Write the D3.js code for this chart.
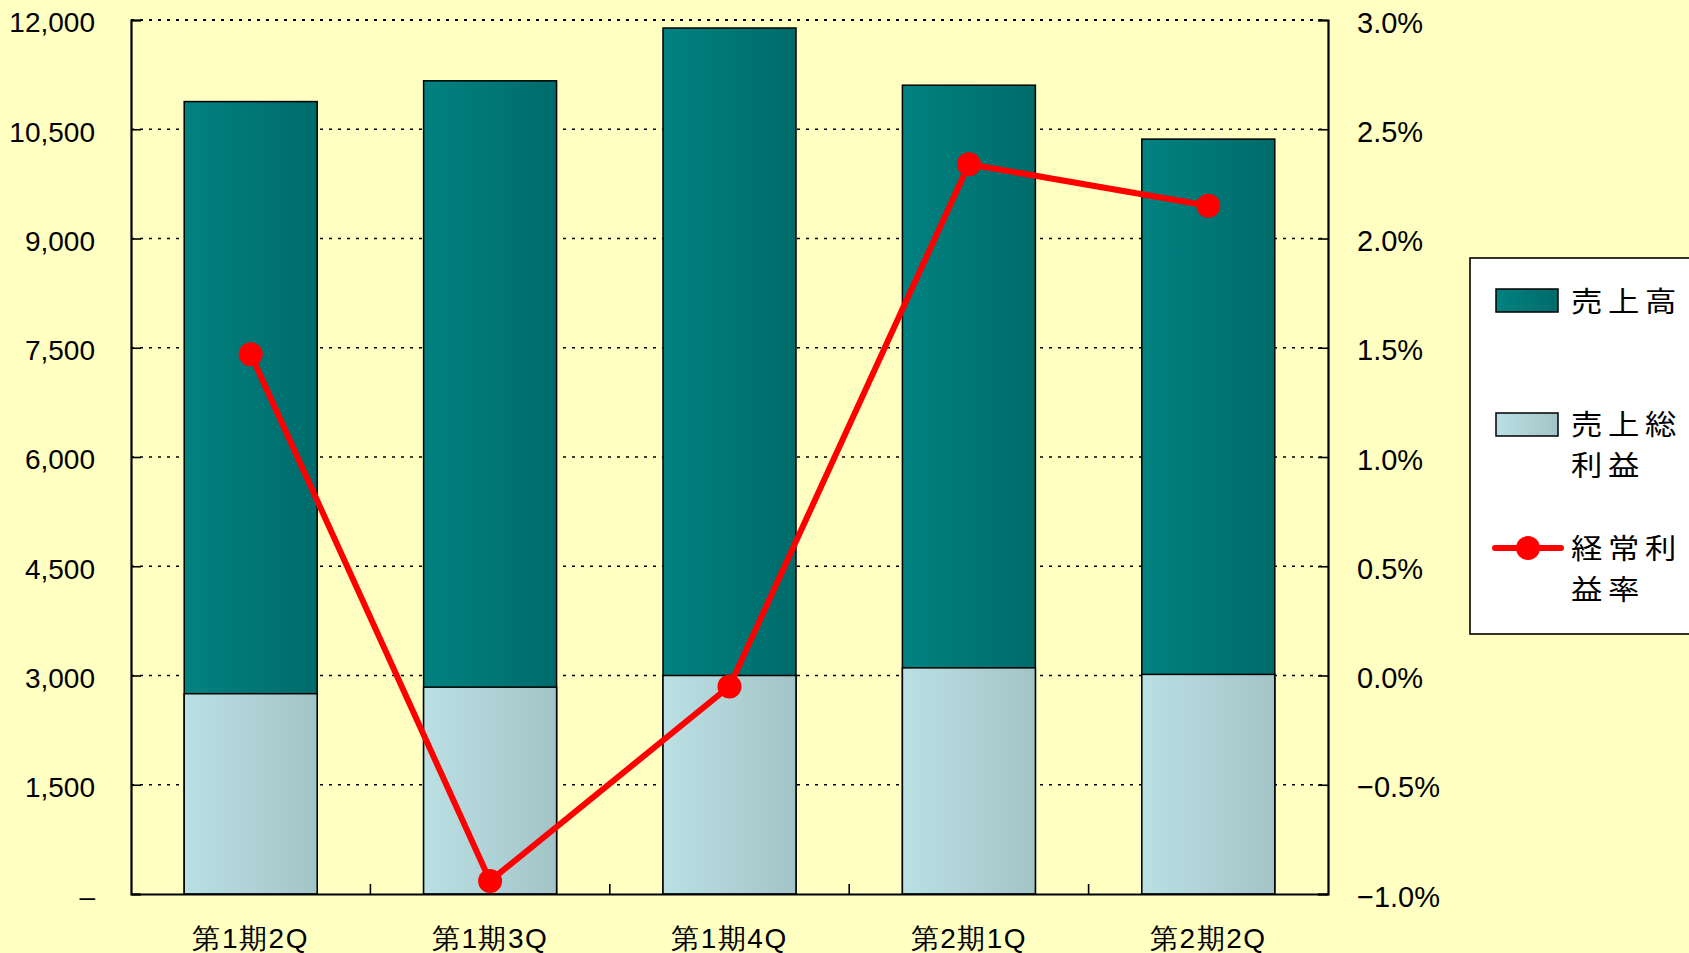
<!DOCTYPE html>
<html>
<head>
<meta charset="utf-8">
<script src="https://cdn.jsdelivr.net/npm/d3@7"></script>
<style>
  html, body { margin: 0; padding: 0; background: #ffffc2; overflow: hidden; }
  text { font-family: "Liberation Sans", Arial, sans-serif; fill: #000; }
  .cjk { font-family: "Noto Sans CJK JP", sans-serif; }
</style>
</head>
<body>
<div id="chart"></div>
<script>
// data
const categories = ["第1期2Q", "第1期3Q", "第1期4Q", "第2期1Q", "第2期2Q"];
const sales = [10880, 11165, 11890, 11105, 10365];        // 売上高
const grossProfit = [2750, 2840, 3000, 3105, 3015];       // 売上総利益
const ordinaryMargin = [1.47, -0.94, -0.05, 2.34, 2.15];  // 経常利益率 (%)
const leftTicks = [0, 1500, 3000, 4500, 6000, 7500, 9000, 10500, 12000];
const rightTicks = [-1.0, -0.5, 0.0, 0.5, 1.0, 1.5, 2.0, 2.5, 3.0];

const W = 1689, H = 953;
const plot = {left: 131, right: 1328, top: 20, bottom: 894};

const svg = d3.select("#chart").append("svg")
    .attr("width", W)
    .attr("height", H);

// gradients for the bars
const defs = svg.append("defs");
function grad(id, c0, c1) {
    const g = defs.append("linearGradient").attr("id", id)
        .attr("x1", "0%").attr("x2", "100%").attr("y1", "0%").attr("y2", "0%");
    g.append("stop").attr("offset", "0%").attr("stop-color", c0);
    g.append("stop").attr("offset", "100%").attr("stop-color", c1);
}
grad("gSales", "#008280", "#006b6b");
grad("gGross", "#bae0e4", "#a3c4c7");

// background
svg.append("rect").attr("width", W).attr("height", H).attr("fill", "#ffffc2");

const xCat = d3.scaleBand()
    .domain(categories)
    .range([plot.left, plot.right])
    .padding(0);

const x = d3.scaleBand()
    .domain(categories)
    .range([plot.left, plot.right])
    .paddingInner(0.4445)
    .paddingOuter(0.22225);

const y = d3.scaleLinear()
    .domain([0, 12000])
    .range([plot.bottom, plot.top]);

const y2 = d3.scaleLinear()
    .domain([-1, 3])
    .range([plot.bottom, plot.top]);

// gridlines
svg.append("g")
    .selectAll("line")
    .data(leftTicks.filter(d => d > 0))
    .join("line")
    .attr("x1", plot.left)
    .attr("x2", plot.right)
    .attr("y1", d => y(d))
    .attr("y2", d => y(d))
    .attr("stroke", "#000")
    .attr("stroke-width", d => d === 12000 ? 2 : 1.6)
    .attr("stroke-dasharray", "3,6");

// sales bars (behind)
svg.append("g")
    .selectAll("rect")
    .data(categories)
    .join("rect")
    .attr("x", d => x(d))
    .attr("width", x.bandwidth())
    .attr("y", (d, i) => y(sales[i]))
    .attr("height", (d, i) => y(0) - y(sales[i]))
    .attr("fill", "url(#gSales)")
    .attr("stroke", "#000")
    .attr("stroke-width", 1.5);

// gross profit bars (in front)
svg.append("g")
    .selectAll("rect")
    .data(categories)
    .join("rect")
    .attr("x", d => x(d))
    .attr("width", x.bandwidth())
    .attr("y", (d, i) => y(grossProfit[i]))
    .attr("height", (d, i) => y(0) - y(grossProfit[i]))
    .attr("fill", "url(#gGross)")
    .attr("stroke", "#000")
    .attr("stroke-width", 1.5);

// axes
const leftAxis = svg.append("g")
    .attr("transform", `translate(${plot.left},0)`)
    .call(d3.axisLeft(y)
        .tickValues(leftTicks)
        .tickSize(-10)
        .tickPadding(36)
        .tickFormat(d => d === 0 ? "–" : d3.format(",")(d)));

const rightAxis = svg.append("g")
    .attr("transform", `translate(${plot.right},0)`)
    .call(d3.axisRight(y2)
        .tickValues(rightTicks)
        .tickSize(-10)
        .tickPadding(29)
        .tickFormat(d => d3.format(".1f")(d) + "%"));

const bottomAxis = svg.append("g")
    .attr("transform", `translate(0,${plot.bottom})`)
    .call(d3.axisBottom(xCat).tickSize(0).tickPadding(34));

[leftAxis, rightAxis, bottomAxis].forEach(a => {
    a.select(".domain").attr("stroke", "#000").attr("stroke-width", 2.2);
    a.selectAll(".tick line").attr("stroke", "#000").attr("stroke-width", 1.6);
    a.selectAll("text").attr("font-size", 28).attr("fill", "#000");
});
leftAxis.selectAll("text").attr("dy", "0.42em");
rightAxis.selectAll("text").attr("dy", "0.42em").attr("font-size", 29);
bottomAxis.selectAll("text")
    .attr("font-size", 28)
    .attr("letter-spacing", 1.5)
    .attr("font-family", "'Noto Sans CJK JP', sans-serif");

// category separator ticks (inside, pointing up)
svg.append("g")
    .selectAll("line")
    .data(categories.slice(1))
    .join("line")
    .attr("x1", d => xCat(d))
    .attr("x2", d => xCat(d))
    .attr("y1", plot.bottom)
    .attr("y2", plot.bottom - 10)
    .attr("stroke", "#000")
    .attr("stroke-width", 1.6);

// margin line
const cx = d => xCat(d) + xCat.bandwidth() / 2;
const line = d3.line()
    .x(d => cx(d))
    .y((d, i) => y2(ordinaryMargin[i]));

svg.append("path")
    .datum(categories)
    .attr("fill", "none")
    .attr("stroke", "#ff0000")
    .attr("stroke-width", 6)
    .attr("d", line);

svg.append("g")
    .selectAll("circle")
    .data(categories)
    .join("circle")
    .attr("cx", d => cx(d))
    .attr("cy", (d, i) => y2(ordinaryMargin[i]))
    .attr("r", 12)
    .attr("fill", "#ff0000");

// legend
const lg = svg.append("g");
lg.append("rect")
    .attr("x", 1470).attr("y", 258)
    .attr("width", 260).attr("height", 376)
    .attr("fill", "#fff")
    .attr("stroke", "#000")
    .attr("stroke-width", 1.6);

lg.append("rect")
    .attr("x", 1496).attr("y", 289).attr("width", 62).attr("height", 23)
    .attr("fill", "url(#gSales)").attr("stroke", "#000").attr("stroke-width", 1.5);
lg.append("rect")
    .attr("x", 1496).attr("y", 413).attr("width", 62).attr("height", 23)
    .attr("fill", "url(#gGross)").attr("stroke", "#000").attr("stroke-width", 1.5);
lg.append("line")
    .attr("x1", 1495).attr("x2", 1561).attr("y1", 548).attr("y2", 548)
    .attr("stroke", "#ff0000").attr("stroke-width", 6).attr("stroke-linecap", "round");
lg.append("circle")
    .attr("cx", 1528).attr("cy", 548).attr("r", 12).attr("fill", "#ff0000");

const legendItems = [
    {lines: ["売上高"], y: 302},
    {lines: ["売上総", "利益"], y: 425},
    {lines: ["経常利", "益率"], y: 549}
];
lg.selectAll("text.lab")
    .data(legendItems)
    .join("text")
    .attr("class", "cjk")
    .attr("transform", "translate(1571,0) scale(1.12,1)")
    .attr("font-size", 28)
    .attr("letter-spacing", 5)
    .selectAll("tspan")
    .data(d => d.lines.map((t, i) => ({t, y: d.y + i * 41})))
    .join("tspan")
    .attr("x", 0)
    .attr("y", d => d.y)
    .attr("dy", "0.36em")
    .text(d => d.t);
</script>
</body>
</html>
